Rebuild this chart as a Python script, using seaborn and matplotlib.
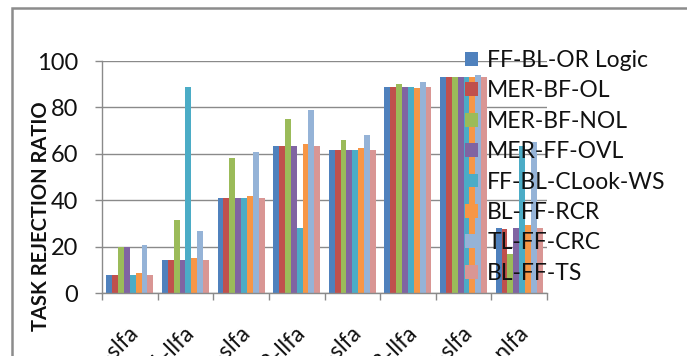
import matplotlib
matplotlib.use("Agg")
import matplotlib.pyplot as plt
import seaborn as sns
import pandas as pd
from matplotlib.patches import Rectangle
from matplotlib.transforms import ScaledTranslation

# Workload categories (x axis)
categories = ["T1-slfa", "T1-llfa", "T2-slfa", "T2-llfa",
              "T3-slfa", "T3-llfa", "T4-slfa", "T4-nlfa"]

# Placement strategies (legend order)
series_names = ["FF-BL-OR Logic", "MER-BF-OL", "MER-BF-NOL", "MER-FF-OVL",
                "FF-BL-CLook-WS", "BL-FF-RCR", "TL-FF-CRC", "BL-FF-TS"]

# Task rejection ratio per strategy and category
ff_bl_or_logic = [8.0, 14.3, 40.9, 63.6, 61.8, 89.0, 93.3, 28.2]
mer_bf_ol      = [8.0, 14.3, 40.9, 63.6, 61.8, 89.0, 93.3, 27.6]
mer_bf_nol     = [20.0, 31.6, 58.1, 75.2, 65.9, 90.0, 93.3, 17.1]
mer_ff_ovl     = [20.0, 14.3, 40.9, 63.6, 61.8, 89.0, 93.3, 28.2]
ff_bl_clook_ws = [8.0, 89.0, 40.9, 28.3, 61.8, 89.0, 93.3, 63.5]
bl_ff_rcr      = [8.6, 15.0, 42.0, 64.3, 62.5, 88.4, 93.3, 29.3]
tl_ff_crc      = [21.0, 26.8, 60.8, 79.0, 68.1, 90.8, 94.0, 65.0]
bl_ff_ts       = [8.0, 14.5, 40.9, 63.6, 61.8, 89.0, 93.0, 28.2]

y_ticks = [0, 20, 40, 60, 80, 100]

colors = ["#4F81BD", "#C0504D", "#9BBB59", "#8064A2",
          "#4BACC6", "#F79646", "#95B3D7", "#D99694"]

all_values = [ff_bl_or_logic, mer_bf_ol, mer_bf_nol, mer_ff_ovl,
              ff_bl_clook_ws, bl_ff_rcr, tl_ff_crc, bl_ff_ts]

rows = []
for name, vals in zip(series_names, all_values):
    for cat, v in zip(categories, vals):
        rows.append({"category": cat, "series": name, "value": v})
df = pd.DataFrame(rows)

sns.set_theme(style="white")
plt.rcParams["font.family"] = ["Lato", "DejaVu Sans"]

W, H = 687, 356
fig = plt.figure(figsize=(W / 100, H / 100), dpi=100)
fig.patch.set_facecolor("white")

ax = fig.add_axes([102 / W, 1 - 293.3 / H, 445 / W, 232.3 / H])
sns.barplot(data=df, x="category", y="value", hue="series",
            hue_order=series_names, order=categories,
            palette=colors, saturation=1, width=0.845,
            linewidth=0, ax=ax)

grid_color = "#8a8a8a"
text_color = "#111111"
ax.set_ylim(0, 100)
ax.set_xlim(-0.5, len(categories) - 0.5)
ax.set_yticks(y_ticks)
ax.set_yticklabels([str(t) for t in y_ticks])
ax.yaxis.grid(True, color=grid_color, linewidth=1.0)
ax.set_axisbelow(True)

for side in ["top", "right"]:
    ax.spines[side].set_visible(False)
for side in ["left", "bottom"]:
    ax.spines[side].set_color(grid_color)
    ax.spines[side].set_linewidth(1.0)

ax.tick_params(axis="y", which="major", length=5, width=1.0, color=grid_color,
               direction="out", left=True, pad=12, labelsize=17,
               labelcolor=text_color)

# Category boundaries carry the tick marks, centers carry the labels
ax.set_xticks([i - 0.5 for i in range(len(categories) + 1)], minor=True)
ax.tick_params(axis="x", which="minor", length=5, width=1.0, color=grid_color,
               direction="out", bottom=True)
ax.set_xticks(range(len(categories)))
ax.set_xticklabels(categories, rotation=45, ha="right", va="center",
                   rotation_mode="anchor")
ax.tick_params(axis="x", which="major", length=0, pad=26.5, labelsize=16.5,
               labelcolor=text_color)
shift = ScaledTranslation(0.06, 0.0, fig.dpi_scale_trans)
for lbl in ax.get_xticklabels():
    lbl.set_transform(lbl.get_transform() + shift)

ax.set_xlabel("")
ax.set_ylabel("")
fig.text(41.5 / W, 1 - 216 / H, "TASK REJECTION RATIO", rotation=90,
         ha="center", va="center", fontsize=14.5, fontweight="bold",
         color=text_color)

handles, labels = ax.get_legend_handles_labels()
ax.get_legend().remove()
fig.legend(handles, labels, loc="upper left",
           bbox_to_anchor=(465 / W, 1 - 50 / H), frameon=False,
           fontsize=16.5, handlelength=0.55, handleheight=0.55,
           handletextpad=0.42, labelspacing=0.41, borderpad=0,
           borderaxespad=0, labelcolor=text_color)

fig.add_artist(Rectangle((11.5 / W, -0.5), 2.0, 1.5 - 8 / H,
                         transform=fig.transFigure, fill=False,
                         edgecolor="#8c8c8c", linewidth=1.8))

fig.savefig("out.png", dpi=100)
